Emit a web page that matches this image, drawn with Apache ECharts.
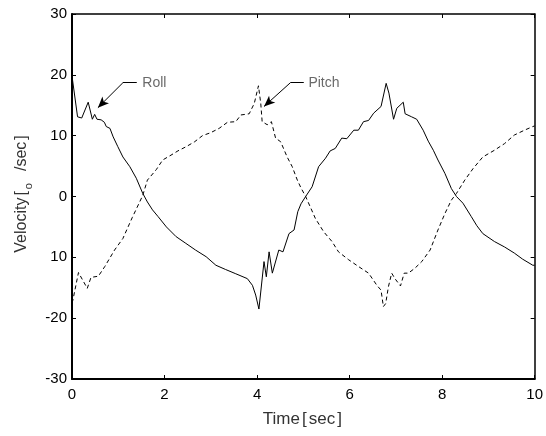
<!DOCTYPE html>
<html>
<head>
<meta charset="utf-8">
<script src="https://cdn.jsdelivr.net/npm/echarts@6/dist/echarts.min.js"></script>
<style>html,body{margin:0;padding:0;background:#fff;}#c{width:546px;height:436px;}</style>
</head>
<body>
<div id="c"></div>
<script>
var rollTime = [0.0,0.02,0.12,0.21,0.35,0.44,0.49,0.54,0.63,0.70,0.74,0.82,0.89,0.99,1.10,1.25,1.39,1.53,1.63,1.74,1.86,2.04,2.25,2.46,2.67,2.90,3.11,3.32,3.54,3.79,3.90,3.97,4.04,4.15,4.20,4.26,4.33,4.47,4.56,4.69,4.80,4.88,4.95,5.05,5.19,5.33,5.48,5.58,5.69,5.83,5.94,6.09,6.19,6.30,6.41,6.52,6.68,6.79,6.85,6.95,7.02,7.16,7.20,7.34,7.45,7.59,7.70,7.81,7.91,8.06,8.20,8.31,8.45,8.63,8.75,8.88,9.13,9.35,9.56,9.74,9.96,10.0];
var rollValues = [19.8,19.5,13.1,12.9,15.5,12.7,13.5,12.7,12.6,12.2,11.5,11.2,9.8,8.2,6.5,4.9,3.0,0.5,-0.9,-2.2,-3.3,-5.0,-6.6,-7.7,-8.8,-9.9,-11.3,-12.0,-12.7,-13.5,-14.6,-16.2,-18.5,-10.7,-13.2,-9.1,-12.6,-8.8,-9.1,-6.1,-5.5,-2.5,-1.2,0.0,1.6,4.9,6.3,7.5,7.9,9.6,9.5,10.9,10.9,12.3,12.5,13.7,14.8,18.6,17.0,12.7,14.5,15.5,13.6,13.1,12.7,10.9,9.1,7.6,6.0,3.8,1.3,0.0,-1.1,-3.3,-4.8,-6.1,-7.4,-8.3,-9.3,-10.3,-11.3,-11.3];
var pitchTime = [0.0,0.02,0.14,0.33,0.41,0.57,0.71,0.92,1.10,1.30,1.45,1.53,1.63,1.82,1.96,2.14,2.29,2.47,2.65,2.82,3.00,3.18,3.36,3.54,3.65,3.83,3.94,4.03,4.08,4.11,4.22,4.31,4.40,4.51,4.65,4.76,4.87,4.95,5.05,5.26,5.44,5.62,5.76,5.98,6.19,6.41,6.59,6.68,6.73,6.78,6.84,6.91,6.98,7.10,7.18,7.27,7.41,7.56,7.74,7.91,8.06,8.20,8.31,8.49,8.67,8.88,9.13,9.35,9.56,9.78,9.96,10.0];
var pitchValues = [-17.5,-17.0,-12.5,-15.1,-13.3,-13.1,-11.5,-8.8,-6.9,-3.5,-1.1,0.2,2.7,4.4,6.0,6.8,7.5,8.2,9.0,10.0,10.5,11.2,12.2,12.3,13.4,13.6,15.3,18.2,15.3,12.3,11.8,12.3,9.6,9.0,6.5,4.9,2.7,1.4,0.0,-3.6,-5.8,-7.4,-9.1,-10.4,-11.5,-12.6,-14.6,-15.4,-18.1,-17.6,-14.8,-12.6,-13.5,-14.7,-12.6,-12.6,-11.8,-10.7,-8.8,-5.5,-2.8,-0.6,0.5,2.7,4.6,6.5,7.6,8.7,10.1,10.9,11.5,11.6];
var yTickLabels = {'30':'30','20':'20','10':'10','0':'0','-10':'10','-20':'-20','-30':'-30'};
var rollLabel = 'Roll';
var pitchLabel = 'Pitch';
// annotation anchors: [label start, line end, elbow, arrow tip]
var rollAnnot = [[1.52,18.7],[1.40,18.7],[1.10,18.7],[0.56,14.6]];
var pitchAnnot = [[5.11,18.7],[5.01,18.7],[4.72,18.7],[4.15,14.8]];

function zip(a,b){return a.map(function(v,i){return [v,b[i]];});}
var FONT = 'Liberation Sans, Arial, sans-serif';
var NFONT = 'Liberation Sans Narrow, Liberation Sans, Arial, sans-serif';

function annotLines(a){
  return [
    [{coord:a[1],symbol:'none'},{coord:a[2],symbol:'none'}],
    [{coord:a[2],symbol:'none'},{coord:a[3],symbol:'arrow'}]
  ];
}

var chart = echarts.init(document.getElementById('c'), null, {renderer:'canvas'});
var commonAxisLine = {show:true,onZero:false,lineStyle:{color:'#000',width:2}};
chart.setOption({
  animation:false,
  backgroundColor:'#fff',
  grid:{left:72,right:9,top:14,bottom:57},
  xAxis:[{
    type:'value',min:0,max:10,interval:2,position:'bottom',
    axisLine:commonAxisLine,
    axisTick:{show:true,inside:true,length:4,lineStyle:{color:'#000',width:1}},
    axisLabel:{color:'#000',fontFamily:FONT,fontSize:15,margin:8},
    splitLine:{show:false},
    name:'{t|Time}{k|[}{t|sec}{k|]}',nameLocation:'middle',nameGap:32,
    nameTextStyle:{color:'#333',fontFamily:NFONT,fontSize:17,
      rich:{t:{fontFamily:NFONT,fontSize:17,color:'#333'},
            k:{fontFamily:NFONT,fontSize:17,color:'#333',padding:[0,2,0,2]}}}
  },{
    type:'value',min:0,max:10,interval:2,position:'top',
    axisLine:{show:true,onZero:false,lineStyle:{color:'#000',width:1.5}},
    axisTick:{show:true,inside:true,length:4,lineStyle:{color:'#000',width:1}},
    axisLabel:{show:false},splitLine:{show:false}
  }],
  yAxis:[{
    type:'value',min:-30,max:30,interval:10,position:'left',
    axisLine:commonAxisLine,
    axisTick:{show:true,inside:true,length:4,lineStyle:{color:'#000',width:1}},
    axisLabel:{color:'#000',fontFamily:FONT,fontSize:15,margin:5,
      formatter:function(v){return yTickLabels[String(v)];}},
    splitLine:{show:false},
    name:'{f|Velocity}{k|[}{b|o}{a|/sec}{k|]}',nameLocation:'middle',nameRotate:90,nameGap:35,
    nameTextStyle:{color:'#333',fontFamily:NFONT,fontSize:16,
      rich:{f:{fontFamily:NFONT,fontSize:16,color:'#333',verticalAlign:'top',lineHeight:16,padding:[0,0,0,7]},
            a:{fontFamily:NFONT,fontSize:16,color:'#333',verticalAlign:'top',lineHeight:16},
            k:{fontFamily:NFONT,fontSize:16,color:'#333',verticalAlign:'top',lineHeight:16,padding:[0,2,0,2]},
            b:{fontFamily:FONT,fontSize:11,color:'#333',verticalAlign:'bottom',lineHeight:21,padding:[0,12,0,0]}}}
  },{
    type:'value',min:-30,max:30,interval:10,position:'right',
    axisLine:{show:true,onZero:false,lineStyle:{color:'#000',width:1.5}},
    axisTick:{show:true,inside:true,length:4,lineStyle:{color:'#000',width:1}},
    axisLabel:{show:false},splitLine:{show:false}
  }],
  series:[{
    name:'Roll',type:'line',xAxisIndex:0,yAxisIndex:0,
    data:zip(rollTime,rollValues),showSymbol:false,symbol:'none',
    lineStyle:{color:'#000',width:1},
    markLine:{silent:true,symbolSize:[7,11],label:{show:false},
      lineStyle:{color:'#000',width:1,type:'solid'},emphasis:{disabled:true},
      data:annotLines(rollAnnot)}
  },{
    name:'Pitch',type:'line',xAxisIndex:0,yAxisIndex:0,
    data:zip(pitchTime,pitchValues),showSymbol:false,symbol:'none',
    lineStyle:{color:'#000',width:1,type:[4,3]},
    markLine:{silent:true,symbolSize:[7,11],label:{show:false},
      lineStyle:{color:'#000',width:1,type:'solid'},emphasis:{disabled:true},
      data:annotLines(pitchAnnot)}
  },{
    type:'scatter',symbolSize:0,silent:true,
    data:[{value:rollAnnot[0],name:rollLabel},{value:pitchAnnot[0],name:pitchLabel}],
    label:{show:true,position:'right',distance:0,formatter:'{b}',
      color:'#444',fontFamily:FONT,fontSize:14}
  }]
});
</script>
</body>
</html>
